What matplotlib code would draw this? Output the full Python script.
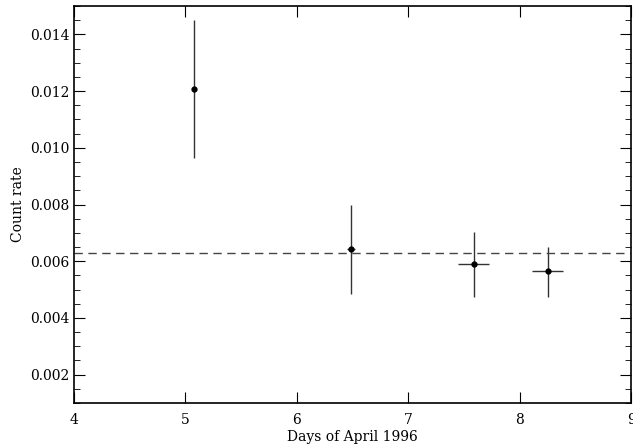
import matplotlib
matplotlib.use("Agg")
import matplotlib.pyplot as plt
from matplotlib.ticker import MultipleLocator

days = [5.076, 6.484, 7.585, 8.247]
rate = [0.01206, 0.00642, 0.00589, 0.00564]
rate_hi = [0.0145, 0.0080, 0.00704, 0.00651]
rate_lo = [0.00963, 0.00485, 0.00474, 0.00474]
day_err = [0.0, 0.035, 0.139, 0.14]
mean_rate = 0.00629

yerr = [[r - lo for r, lo in zip(rate, rate_lo)], [hi - r for r, hi in zip(rate, rate_hi)]]

plt.rcParams['font.family'] = ['DejaVu Serif']
fig = plt.figure(figsize=(6.33, 4.44), dpi=100)
ax = fig.add_axes([0.1169, 0.0923, 0.8807, 0.8942])
ax.errorbar(days, rate, yerr=yerr, xerr=day_err, fmt='o', color='black',
            ecolor='#333333', elinewidth=1.0, markersize=3.5, capsize=0)
ax.axhline(mean_rate, color='#444444', linestyle=(0, (6, 4)), linewidth=1.0)
ax.set_xlim(4, 9)
ax.set_ylim(0.001, 0.015)
ax.xaxis.set_major_locator(MultipleLocator(1))
ax.yaxis.set_major_locator(MultipleLocator(0.002))
ax.yaxis.set_minor_locator(MultipleLocator(0.0005))
ax.yaxis.set_major_formatter(matplotlib.ticker.FormatStrFormatter('%.3f'))
ax.tick_params(which='both', direction='in', top=True, right=True, labelsize=10)
ax.tick_params(which='major', length=8)
ax.tick_params(which='minor', length=4)
ax.tick_params(axis='x', pad=7)
for s in ax.spines.values():
    s.set_linewidth(1.2)
ax.set_xlabel('Days of April 1996', fontsize=10)
ax.set_ylabel('Count rate', fontsize=10)
ax.xaxis.set_label_coords(0.4987, -0.0856)
ax.yaxis.set_label_coords(-0.1005, 0.5)
ax.xaxis.label.set_va('center')
ax.yaxis.label.set_va('center')
fig.savefig('out.png', dpi=100)
